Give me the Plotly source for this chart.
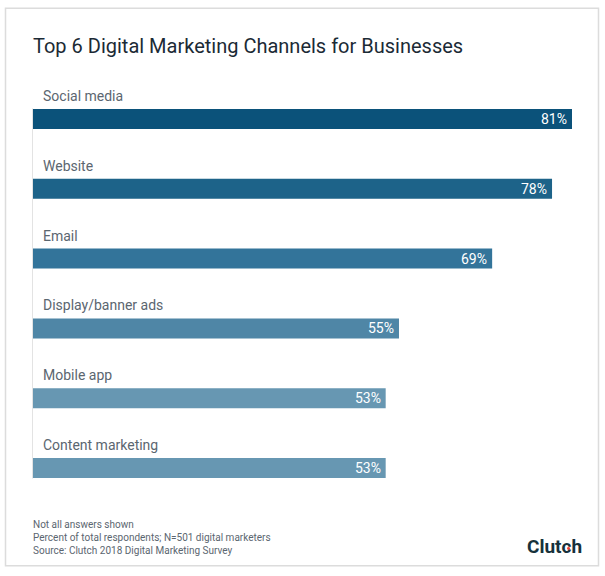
import plotly.graph_objects as go

# data
channels = ["Social media", "Website", "Email", "Display/banner ads", "Mobile app", "Content marketing"]
shares = [81, 78, 69, 55, 53, 53]
bar_colors = ["#0b527a", "#1d6389", "#33749a", "#4f86a6", "#6797b2", "#6797b2"]
notes = [
    "Not all answers shown",
    "Percent of total respondents; N=501 digital marketers",
    "Source: Clutch 2018 Digital Marketing Survey",
]

W, H = 605, 576
ML, MR, MT, MB = 33, 33, 83.5, 72.5
PW, PH = W - ML - MR, H - MT - MB


def px(x):
    return (x - ML) / PW


def py(y):
    return (H - MB - y) / PH


fig = go.Figure(go.Bar(
    x=shares,
    y=channels,
    orientation="h",
    marker=dict(color=bar_colors, line=dict(width=0)),
    hoverinfo="skip",
))

# category labels above each bar, value labels at the bar end
for c, v in zip(channels, shares):
    fig.add_annotation(
        x=0, y=c, xref="x", yref="y", text=c, showarrow=False,
        xanchor="left", yanchor="middle", xshift=8, yshift=23,
        font=dict(size=14, color="#5b6670", family="Roboto"),
    )
    fig.add_annotation(
        x=v, y=c, xref="x", yref="y", text=f"{v}%", showarrow=False,
        xanchor="right", yanchor="middle", xshift=-3,
        font=dict(size=14, color="white", family="Roboto"),
    )

fig.add_annotation(
    x=0, y=py(518), xref="paper", yref="paper", text="<br>".join(notes),
    showarrow=False, xanchor="left", yanchor="top", align="left", xshift=-2,
    font=dict(size=10, color="#5b6670", family="Roboto"),
)

# Clutch logo
fig.add_annotation(
    x=px(584), y=py(547), xref="paper", yref="paper", text="<b>Clutch</b>",
    showarrow=False, xanchor="right", yanchor="middle",
    font=dict(size=19, color="#17313b", family="Roboto"),
)
fig.add_shape(
    type="circle", xref="paper", yref="paper",
    x0=px(567), x1=px(570), y0=py(550.5), y1=py(547.5),
    fillcolor="#ef4335", line=dict(width=0),
)

# thin baseline along the bars' left edge
fig.add_shape(
    type="line", xref="paper", yref="paper",
    x0=px(32.5), x1=px(32.5), y0=py(479), y1=py(108),
    line=dict(color="#e3e3e3", width=1),
)

# outer frame
fig.add_shape(
    type="rect", xref="paper", yref="paper",
    x0=px(5.5), x1=px(598.5), y0=py(566.5), y1=py(7.5),
    line=dict(color="#dcdcdc", width=1.5), fillcolor="rgba(0,0,0,0)",
)

fig.update_layout(
    width=W, height=H,
    margin=dict(l=ML, r=MR, t=MT, b=MB),
    paper_bgcolor="white", plot_bgcolor="white",
    title=dict(
        text="Top 6 Digital Marketing Channels for Businesses",
        x=33 / W, xanchor="left", y=1 - 46 / H, yanchor="middle",
        font=dict(size=20, color="#1b2a35", family="Roboto"),
    ),
    xaxis=dict(range=[0, 81], visible=False, fixedrange=True),
    yaxis=dict(
        autorange="reversed", showticklabels=False, showgrid=False,
        showline=False, zeroline=False, ticks="", fixedrange=True,
    ),
    bargap=50 / 70,
    showlegend=False,
    font=dict(family="Roboto"),
)

fig.write_html(
    "out.html",
    config={"displayModeBar": False},
    post_script="document.body.style.margin='0';",
)
